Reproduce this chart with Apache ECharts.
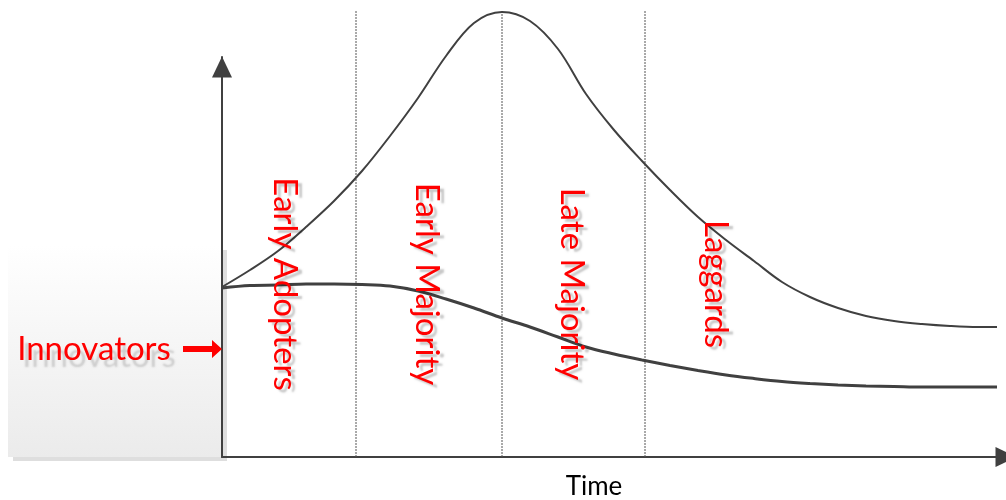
<!DOCTYPE html>
<html>
<head>
<meta charset="utf-8">
<script src="https://cdn.jsdelivr.net/npm/echarts@6/dist/echarts.min.js"></script>
<style>html,body{margin:0;padding:0;background:#fff;}#c{width:1006px;height:500px;}</style>
</head>
<body>
<div id="c"></div>
<script>
// Adoption curve (upper) — time vs. value
const topX = [0, 28, 56, 84, 112, 140, 168, 196, 224, 252, 280, 308, 336, 364, 392, 420, 448, 476, 504, 532, 560, 588, 616, 644, 672, 700, 728, 756, 775];
const topY = [170, 187, 206, 230, 256, 286, 321, 359, 401, 434, 445, 436, 408, 363, 327, 296, 267, 240, 217, 196, 175, 160, 149, 141, 136, 133, 131, 130, 130];
// Lower curve
const lowX = [0, 28, 56, 84, 112, 140, 168, 196, 224, 252, 280, 308, 336, 364, 392, 420, 448, 476, 504, 532, 560, 588, 616, 644, 672, 700, 728, 756, 775];
const lowY = [169, 171.5, 172, 173, 173, 172.5, 171, 166, 158, 149, 139, 130, 120, 110, 103, 97, 91.5, 86.5, 82, 78.5, 75.5, 73.5, 72, 71, 70.5, 70, 70, 70, 70];
// Segment boundaries (dotted verticals)
const dividers = [134, 280, 423];
const dividerTop = 447;
// Segment labels and their anchor positions (data coords)
const segNames = ['Early Adopters', 'Early Majority', 'Late Majority', 'Laggards'];
const segX = [63, 205, 350, 494];
const segY = 173;
const innovatorsLabel = 'Innovators';
const innovatorsY = 108;
const xName = 'Time';

const chart = echarts.init(document.getElementById('c'), null, {renderer: 'canvas'});
const axisColor = '#404040';
const series = [
  {type: 'line', data: topX.map((x, i) => [x, topY[i]]), smooth: 0.35, symbol: 'none', clip: false,
   lineStyle: {color: axisColor, width: 2}, silent: true, z: 3},
  {type: 'line', data: lowX.map((x, i) => [x, lowY[i]]), smooth: 0.35, symbol: 'none', clip: false,
   lineStyle: {color: axisColor, width: 3}, silent: true, z: 3}
];
dividers.forEach(d => series.push({
  type: 'line', data: [[d, 0], [d, dividerTop]], symbol: 'none', clip: false, silent: true, z: 2,
  lineStyle: {color: '#555', width: 1, type: [2, 1]}
}));

chart.setOption({
  animation: false,
  grid: {left: 222, right: 0, top: 57, bottom: 43},
  xAxis: {type: 'value', min: 0, max: 784, splitLine: {show: false}, axisTick: {show: false}, axisLabel: {show: false},
    axisLine: {show: true, lineStyle: {color: axisColor, width: 2}, symbol: ['none', 'triangle'], symbolSize: [20, 21], symbolOffset: [0, 0]}},
  yAxis: {type: 'value', min: 0, max: 400, splitLine: {show: false}, axisTick: {show: false}, axisLabel: {show: false},
    axisLine: {show: true, lineStyle: {color: axisColor, width: 2}, symbol: ['none', 'triangle'], symbolSize: [20, 21], symbolOffset: [0, -10]}},
  series: series
});

const graphics = [];
// box with gradient and shadow
graphics.push({type: 'rect', z: -20, shape: {x: 13, y: 250, width: 214, height: 211}, style: {fill: '#dedede'}, silent: true});
graphics.push({type: 'rect', z: -19, shape: {x: 8, y: 245, width: 214, height: 212},
  style: {fill: new echarts.graphic.LinearGradient(0, 0, 0, 1, [{offset: 0, color: '#ffffff'}, {offset: 1, color: '#ebebeb'}])}, silent: true});

segNames.forEach((n, i) => {
  const p = chart.convertToPixel({gridIndex: 0}, [segX[i], segY]);
  graphics.push({type: 'text', z: 10, x: p[0], y: p[1], rotation: -Math.PI / 2, silent: true,
    style: {text: n, fill: '#ff0000', font: '33px Lato', align: 'center', verticalAlign: 'middle',
      textShadowColor: 'rgba(0,0,0,0.22)', textShadowBlur: 2, textShadowOffsetX: 4, textShadowOffsetY: 3}});
});

const ip = chart.convertToPixel({gridIndex: 0}, [0, innovatorsY]);
graphics.push({type: 'text', z: 10, x: 94, y: ip[1], silent: true,
  style: {text: innovatorsLabel, fill: '#ff0000', font: '33px Lato', align: 'center', verticalAlign: 'middle',
    textShadowColor: 'rgba(0,0,0,0.16)', textShadowBlur: 2, textShadowOffsetX: 5, textShadowOffsetY: 7}});
// arrow pointing at the y axis
graphics.push({type: 'polygon', z: 10, silent: true,
  shape: {points: [[183, ip[1] - 3], [212, ip[1] - 3], [212, ip[1] - 9], [222, ip[1]], [212, ip[1] + 9], [212, ip[1] + 3], [183, ip[1] + 3]]},
  style: {fill: '#ff0000'}});

graphics.push({type: 'text', z: 10, x: 594, y: 487, silent: true,
  style: {text: xName, fill: '#000', font: '26px Lato', align: 'center', verticalAlign: 'middle'}});

chart.setOption({graphic: graphics});
</script>
</body>
</html>
